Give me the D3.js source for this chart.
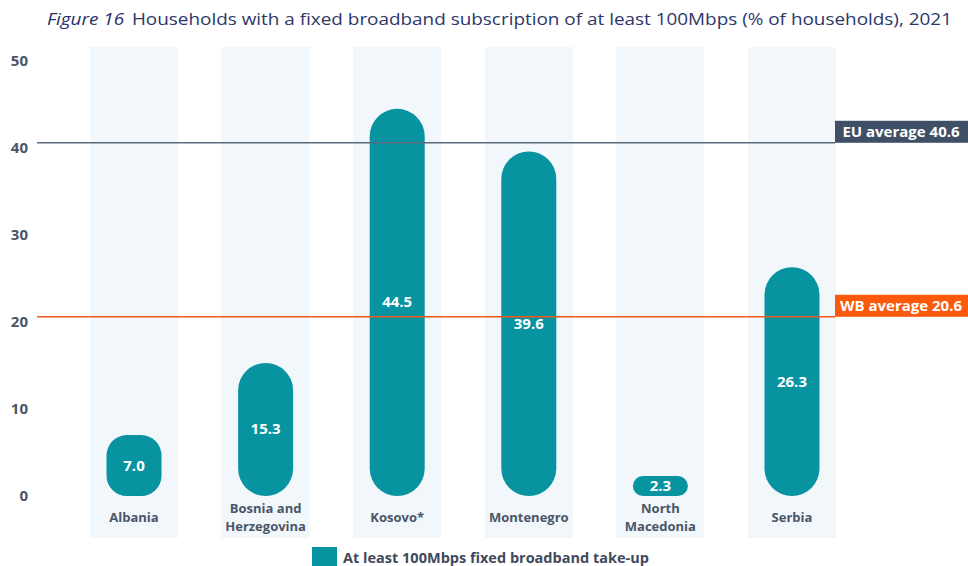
<!DOCTYPE html>
<html lang="en">
<head>
<meta charset="UTF-8">
<title>Figure 16</title>
<script src="https://d3js.org/d3.v7.min.js"></script>
<style>
  html, body { margin: 0; padding: 0; background: #fff; }
  svg { display: block; font-family: "Open Sans", "Noto Sans", sans-serif; }
</style>
</head>
<body>
<svg id="chart" width="968" height="566"></svg>
<script>
// data
var countries = ["Albania", "Bosnia and Herzegovina", "Kosovo*", "Montenegro", "North Macedonia", "Serbia"];
var countryLines = [["Albania"], ["Bosnia and", "Herzegovina"], ["Kosovo*"], ["Montenegro"], ["North", "Macedonia"], ["Serbia"]];
var takeUp = [7.0, 15.3, 44.5, 39.6, 2.3, 26.3];
var yTicks = [0, 10, 20, 30, 40, 50];
var averages = [
  { label: "EU average 40.6", value: 40.6, line: "#5b6a7d", box: "#3f5066" },
  { label: "WB average 20.6", value: 20.6, line: "#f2571b", box: "#fb5a0c" }
];
var legendLabel = "At least 100Mbps fixed broadband take-up";

var teal = "#0893a1";
var textGrey = "#4a5568";

var svg = d3.select("#chart");

// scales
var x = d3.scaleBand()
  .domain(countries)
  .range([90, 836])
  .paddingInner(0.331)
  .paddingOuter(0);

var y = d3.scaleLinear()
  .domain([0, 50])
  .range([496, 61]);

var barW = 55;

// title
var title = svg.append("text")
  .attr("x", 47)
  .attr("y", 25)
  .attr("font-size", 17)
  .attr("fill", "#2c3768")
  .attr("textLength", 905)
  .attr("lengthAdjust", "spacingAndGlyphs");
title.append("tspan").attr("font-style", "italic").attr("fill", "#27306a").text("Figure 16");
title.append("tspan").attr("dx", 7)
  .text("Households with a fixed broadband subscription of at least 100Mbps (% of households), 2021");

// background columns
svg.append("g")
  .selectAll("rect")
  .data(countries)
  .enter()
  .append("rect")
    .attr("x", function (d) { return x(d); })
    .attr("y", 47)
    .attr("width", x.bandwidth())
    .attr("height", 538 - 47)
    .attr("fill", "#f1f7fa");

// y axis labels
var yAxis = d3.axisLeft(y).tickValues(yTicks).tickSize(0).tickPadding(0);
svg.append("g")
  .attr("transform", "translate(28,0)")
  .call(yAxis)
  .call(function (g) { g.select(".domain").remove(); })
  .call(function (g) {
    g.selectAll("text")
      .attr("font-family", "'Open Sans', sans-serif")
      .attr("font-size", 15)
      .attr("font-weight", "bold")
      .attr("fill", textGrey);
  });

// bars (rounded)
svg.append("g")
  .selectAll("rect")
  .data(takeUp)
  .enter()
  .append("rect")
    .attr("x", function (d, i) { return x(countries[i]) + x.bandwidth() / 2 - barW / 2; })
    .attr("y", function (d) { return y(d); })
    .attr("width", barW)
    .attr("height", function (d) { return y(0) - y(d); })
    .attr("rx", function (d) {
      var h = y(0) - y(d);
      return h < 30 ? h / 2 : Math.min(barW / 2, h / 3);
    })
    .attr("fill", teal);

// average lines
var avg = svg.append("g");
averages.forEach(function (a) {
  avg.append("line")
    .attr("x1", 37)
    .attr("x2", 835)
    .attr("y1", y(a.value))
    .attr("y2", y(a.value))
    .attr("stroke", a.line)
    .attr("stroke-width", 1.5);
  avg.append("rect")
    .attr("x", 835)
    .attr("y", y(a.value) - 22)
    .attr("width", 133)
    .attr("height", 22)
    .attr("fill", a.box);
  avg.append("text")
    .attr("x", 901)
    .attr("y", y(a.value) - 6)
    .attr("text-anchor", "middle")
    .attr("font-size", 15)
    .attr("font-weight", "bold")
    .attr("fill", "#fff")
    .text(a.label);
});

// value labels
svg.append("g")
  .selectAll("text")
  .data(takeUp)
  .enter()
  .append("text")
    .attr("x", function (d, i) { return x(countries[i]) + x.bandwidth() / 2; })
    .attr("y", function (d) { return (y(d) + y(0)) / 2 + 5; })
    .attr("text-anchor", "middle")
    .attr("font-size", 15)
    .attr("font-weight", "bold")
    .attr("fill", "#fff")
    .text(function (d) { return d.toFixed(1); });

// category labels
var cat = svg.append("g")
  .selectAll("text")
  .data(countryLines)
  .enter()
  .append("text")
    .attr("text-anchor", "middle")
    .attr("font-size", 13)
    .attr("font-weight", "bold")
    .attr("fill", textGrey);
cat.each(function (lines, i) {
  var t = d3.select(this);
  var cx = x(countries[i]) + x.bandwidth() / 2;
  var y0 = lines.length > 1 ? 513 : 522;
  lines.forEach(function (l, j) {
    t.append("tspan").attr("x", cx).attr("y", y0 + j * 18).text(l);
  });
});

// legend
svg.append("rect")
  .attr("x", 312)
  .attr("y", 547)
  .attr("width", 25)
  .attr("height", 19)
  .attr("fill", teal);
svg.append("text")
  .attr("x", 343)
  .attr("y", 563)
  .attr("font-size", 14.5)
  .attr("font-weight", "bold")
  .attr("fill", "#3f4a5c")
  .text(legendLabel);
</script>
</body>
</html>
